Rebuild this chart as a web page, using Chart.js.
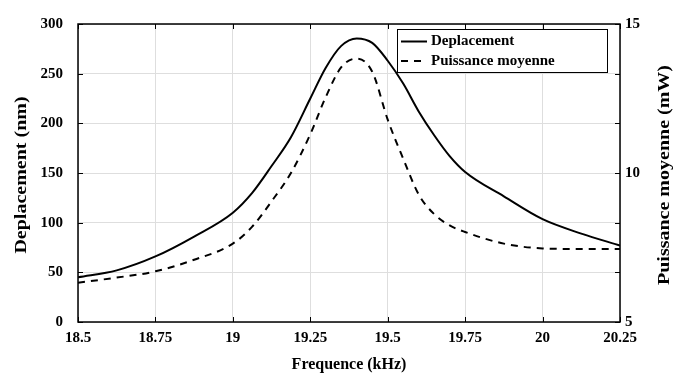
<!DOCTYPE html>
<html><head><meta charset="utf-8">
<script src="https://cdn.jsdelivr.net/npm/chart.js@4"></script>
<style>html,body{margin:0;padding:0;background:#fff}canvas{display:block}</style>
</head><body>
<canvas id="c" width="677" height="378"></canvas>
<script>
const freq = [18.5, 18.625, 18.75, 18.875, 19, 19.0625, 19.125, 19.1875, 19.25, 19.3, 19.35, 19.4, 19.45, 19.5, 19.55, 19.6, 19.65, 19.7, 19.75, 19.875, 20, 20.125, 20.25];
const deplacement = [45, 52, 66, 86, 110, 130, 157, 186, 225, 256, 278, 285.5, 281, 263, 240, 212, 188, 167, 151, 126.5, 103.5, 89, 77];
const puissance = [6.32, 6.49, 6.70, 7.09, 7.63, 8.2, 9.05, 10.0, 11.30, 12.55, 13.55, 13.84, 13.4, 11.79, 10.48, 9.28, 8.62, 8.24, 8.02, 7.63, 7.47, 7.45, 7.45];
const xTicks = [18.5, 18.75, 19, 19.25, 19.5, 19.75, 20, 20.25];
const leftTicks = [0, 50, 100, 150, 200, 250, 300];
const rightTicks = [5, 10, 15];
const labelDep = 'Deplacement';
const labelPui = 'Puissance moyenne';
const xTitle = 'Frequence (kHz)';
const yLeftTitle = 'Deplacement (nm)';
const yRightTitle = 'Puissance moyenne (mW)';

const FONT = '"Liberation Serif", "Times New Roman", serif';

const frame = {
  id: 'frame',
  afterDraw(chart) {
    const ctx = chart.ctx, a = chart.chartArea;
    const x = chart.scales.x, yl = chart.scales.yL;
    ctx.save();
    ctx.strokeStyle = '#000';
    ctx.lineWidth = 1;
    ctx.beginPath();
    xTicks.forEach(v => {
      const p = Math.round(x.getPixelForValue(v)) + 0.5;
      ctx.moveTo(p, a.bottom); ctx.lineTo(p, a.bottom - 5);
      ctx.moveTo(p, a.top); ctx.lineTo(p, a.top + 5);
    });
    leftTicks.forEach(v => {
      const p = Math.round(yl.getPixelForValue(v)) + 0.5;
      ctx.moveTo(a.left, p); ctx.lineTo(a.left + 5, p);
      ctx.moveTo(a.right, p); ctx.lineTo(a.right - 5, p);
    });
    ctx.stroke();
    ctx.lineWidth = 1.5;
    ctx.strokeRect(a.left, a.top, a.right - a.left, a.bottom - a.top);
    ctx.restore();
    // vertical axis titles, reading bottom-to-top
    const midY = (a.top + a.bottom) / 2 + 2;
    [[22, yLeftTitle], [665, yRightTitle]].forEach(([cx, t]) => {
      ctx.save();
      ctx.fillStyle = '#000';
      ctx.font = 'bold 16px ' + FONT;
      ctx.textAlign = 'center';
      ctx.textBaseline = 'middle';
      ctx.translate(cx, midY);
      ctx.rotate(-Math.PI / 2);
      ctx.scale(1.25, 1);
      ctx.fillText(t, 0, 0);
      ctx.restore();
    });
    // legend
    ctx.save();
    const lx = 397, ly = 29, lw = 210, lh = 43;
    ctx.fillStyle = '#fff';
    ctx.fillRect(lx, ly, lw, lh);
    ctx.strokeStyle = '#000';
    ctx.lineWidth = 1;
    ctx.strokeRect(lx + 0.5, ly + 0.5, lw, lh);
    const ds = chart.data.datasets;
    const rows = [41.5, 61];
    ds.forEach((d, i) => {
      ctx.beginPath();
      ctx.lineWidth = 2;
      ctx.setLineDash(d.borderDash || []);
      ctx.moveTo(401, rows[i]); ctx.lineTo(427, rows[i]);
      ctx.stroke();
      ctx.setLineDash([]);
      ctx.fillStyle = '#000';
      ctx.font = 'bold 15px ' + FONT;
      ctx.textAlign = 'left';
      ctx.textBaseline = 'middle';
      ctx.fillText(d.label, 431, rows[i]);
    });
    ctx.restore();
  }
};

new Chart(document.getElementById('c'), {
  type: 'line',
  data: {
    datasets: [
      { label: labelDep, data: freq.map((f, i) => ({x: f, y: deplacement[i]})), yAxisID: 'yL',
        borderColor: '#000', borderWidth: 2, pointRadius: 0, cubicInterpolationMode: 'monotone', fill: false },
      { label: labelPui, data: freq.map((f, i) => ({x: f, y: puissance[i]})), yAxisID: 'yR',
        borderColor: '#000', borderWidth: 2, borderDash: [7, 6], pointRadius: 0, cubicInterpolationMode: 'monotone', fill: false }
    ]
  },
  options: {
    responsive: false, animation: false, devicePixelRatio: 1,
    layout: { padding: { top: 17, left: 0, right: 0, bottom: 0 } },
    plugins: { legend: { display: false }, tooltip: { enabled: false } },
    scales: {
      x: {
        type: 'linear', position: 'bottom', min: 18.5, max: 20.25,
        afterBuildTicks: s => { s.ticks = xTicks.map(v => ({value: v})); },
        afterFit: s => { s.height = 56; },
        grid: { color: '#dedede', lineWidth: 1, drawTicks: false },
        border: { display: false },
        ticks: { color: '#000', padding: 7, maxRotation: 0, autoSkip: false, font: { family: FONT, size: 15, weight: 'bold' }, callback: v => String(v) },
        title: { display: true, text: xTitle, color: '#000', font: { family: FONT, size: 16, weight: 'bold' }, padding: { top: 4, bottom: 4 } }
      },
      yL: {
        type: 'linear', position: 'left', min: 0, max: 300,
        afterBuildTicks: s => { s.ticks = leftTicks.map(v => ({value: v})); },
        afterFit: s => { s.width = 78; },
        grid: { color: '#dedede', lineWidth: 1, drawTicks: false },
        border: { display: false },
        ticks: { color: '#000', padding: 15, font: { family: FONT, size: 15, weight: 'bold' }, callback: v => String(v) }
      },
      yR: {
        type: 'linear', position: 'right', min: 5, max: 15,
        afterBuildTicks: s => { s.ticks = rightTicks.map(v => ({value: v})); },
        afterFit: s => { s.width = 57; },
        grid: { display: false, drawTicks: false },
        border: { display: false },
        ticks: { color: '#000', padding: 5, font: { family: FONT, size: 15, weight: 'bold' }, callback: v => String(v) }
      }
    }
  },
  plugins: [frame]
});
</script>
</body></html>
